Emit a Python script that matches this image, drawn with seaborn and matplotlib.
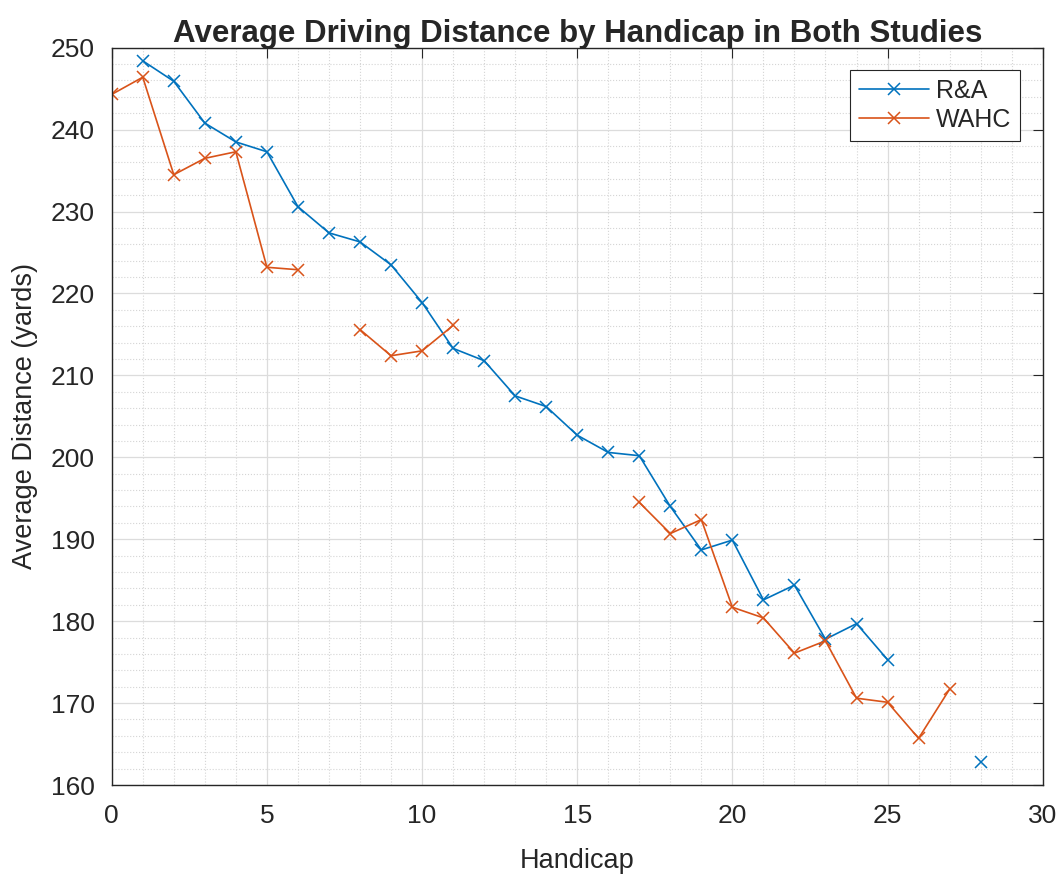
import numpy as np
import pandas as pd
import matplotlib
matplotlib.use('Agg')
import matplotlib.pyplot as plt
import seaborn as sns
from matplotlib.ticker import MultipleLocator

# handicap values and average distances (NaN = no data, line breaks there)
handicap = list(range(0, 29))
ra_dist = [np.nan, 248.4, 245.9, 240.8, 238.5, 237.3, 230.6, 227.4, 226.3, 223.5,
           218.9, 213.3, 211.8, 207.5, 206.2, 202.7, 200.6, 200.2, 194.0, 188.7,
           189.9, 182.6, 184.4, 177.8, 179.7, 175.3, np.nan, np.nan, 162.8]
wahc_dist = [244.3, 246.4, 234.5, 236.5, 237.3, 223.2, 222.9, np.nan, 215.6, 212.4,
             213.0, 216.1, np.nan, np.nan, np.nan, np.nan, np.nan, 194.5, 190.7, 192.4,
             181.7, 180.4, 176.1, 177.6, 170.6, 170.1, 165.7, 171.7, np.nan]
colors = ['#0072BD', '#D95319']


def to_frame(vals, name):
    df = pd.DataFrame({'Handicap': handicap, 'Distance': vals})
    # give each unbroken run its own id so gaps stay as gaps
    df['seg'] = df['Distance'].isna().cumsum()
    df = df.dropna()
    df['Study'] = name
    df['seg'] = name + df['seg'].astype(str)
    return df


data = pd.concat([to_frame(ra_dist, 'R&A'), to_frame(wahc_dist, 'WAHC')])

sns.set_style('white')
plt.rcParams['font.family'] = ['Liberation Sans', 'DejaVu Sans']

fig = plt.figure(figsize=(10.64, 8.74), dpi=100)
ax = fig.add_axes([0.105, 0.1018, 0.875, 0.8436])

sns.lineplot(data=data, x='Handicap', y='Distance', hue='Study', units='seg',
             estimator=None, marker='x', markersize=9, linewidth=1.2,
             palette=colors, ax=ax, legend=False)
# seaborn paints marker edges white; give the x markers their line colour
for ln in ax.lines:
    ln.set_markeredgecolor(ln.get_color())
    ln.set_markeredgewidth(1.1)

ax.set_xlim(0, 30)
ax.set_ylim(160, 250)
ax.xaxis.set_major_locator(MultipleLocator(5))
ax.xaxis.set_minor_locator(MultipleLocator(1))
ax.yaxis.set_major_locator(MultipleLocator(10))
ax.yaxis.set_minor_locator(MultipleLocator(2))
ax.grid(which='major', color='#dcdcdc', linewidth=0.9)
ax.grid(which='minor', color='#d5d5d5', linestyle=':', linewidth=0.8)
ax.set_axisbelow(True)
ax.tick_params(which='both', direction='in', top=True, right=True,
               labelsize=19, colors='#262626', length=7)
ax.tick_params(axis='x', pad=14)
ax.tick_params(axis='y', pad=12)
ax.tick_params(which='minor', length=0)
for s in ax.spines.values():
    s.set_color('#262626')
    s.set_linewidth(1.0)

ax.set_xlabel('Handicap', fontsize=19.5, color='#262626', labelpad=14)
ax.set_ylabel('Average Distance (yards)', fontsize=19.5, color='#262626', labelpad=9)
ax.set_title('Average Driving Distance by Handicap in Both Studies',
             fontsize=22.5, fontweight='bold', pad=4)

handles = [plt.Line2D([], [], color=c, marker='x', markersize=9, linewidth=1.2,
                      markeredgewidth=1.1) for c in colors]
leg = ax.legend(handles, ['R&A', 'WAHC'], loc='upper right', fontsize=18,
                fancybox=False, framealpha=1, edgecolor='#262626',
                handlelength=2.8, handletextpad=0.3, borderpad=0.35,
                labelspacing=0.2, borderaxespad=0.9)
leg.get_frame().set_linewidth(0.8)

fig.savefig('out.png', dpi=100)
